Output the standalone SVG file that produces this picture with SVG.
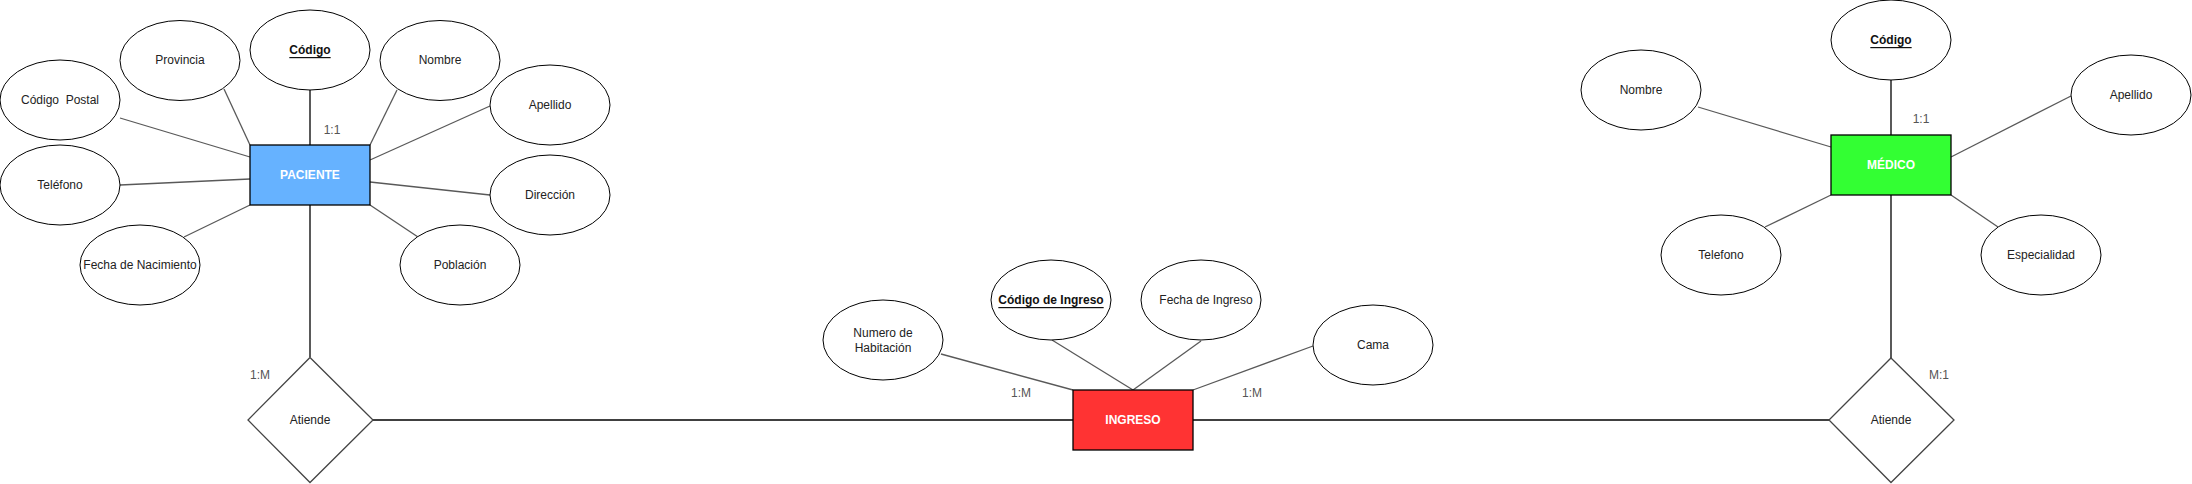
<svg xmlns="http://www.w3.org/2000/svg" width="2192" height="484" viewBox="0 0 2192 484">
<style>
  .bg{fill:#ffffff}
  .attr ellipse{fill:#ffffff;stroke:#000000;stroke-width:1}
  .ent rect{stroke:#000000;stroke-width:1.3}
  .rel polygon{fill:#ffffff;stroke:#444444;stroke-width:1.3}
  text{font-family:"Liberation Sans",Arial,Helvetica,sans-serif;font-size:12px;fill:#222222;text-anchor:middle;dominant-baseline:central}
  .key{font-weight:bold;text-decoration:underline;fill:#111111}
  .etext{font-weight:bold;fill:#ffffff}
  .card{fill:#555555}
  .al{stroke:#595959;stroke-width:1.3;fill:none}
  .rl{stroke:#000000;stroke-width:1.3;fill:none}
</style>
<rect class="bg" x="0" y="0" width="2192" height="484"/>
<g id="connectors">
  <!-- PACIENTE attributes -->
  <line class="al" x1="120" y1="118" x2="250" y2="157"/>
  <line class="al" x1="224" y1="89" x2="250" y2="145"/>
  <line class="rl" x1="310" y1="90" x2="310" y2="145"/>
  <line class="al" x1="397" y1="90" x2="370" y2="145"/>
  <line class="al" x1="490" y1="106" x2="370" y2="160"/>
  <line class="al" x1="120" y1="185" x2="250" y2="179"/>
  <line class="al" x1="184" y1="237" x2="250" y2="205"/>
  <line class="al" x1="370" y1="182" x2="490" y2="195"/>
  <line class="al" x1="370" y1="205" x2="418" y2="237"/>
  <line class="rl" x1="310" y1="205" x2="310" y2="357"/>
  <line class="rl" x1="373" y1="420" x2="1073" y2="420"/>
  <!-- INGRESO attributes -->
  <line class="al" x1="941" y1="354" x2="1073" y2="390"/>
  <line class="al" x1="1052" y1="340" x2="1133" y2="390"/>
  <line class="al" x1="1201" y1="341" x2="1133" y2="390"/>
  <line class="al" x1="1313" y1="346" x2="1193" y2="390"/>
  <line class="rl" x1="1193" y1="420" x2="1829" y2="420"/>
  <!-- MEDICO attributes -->
  <line class="rl" x1="1891" y1="80" x2="1891" y2="135"/>
  <line class="al" x1="1698" y1="107" x2="1831" y2="147"/>
  <line class="al" x1="2071" y1="96" x2="1951" y2="157"/>
  <line class="al" x1="1765" y1="227" x2="1831" y2="195"/>
  <line class="al" x1="1998" y1="227" x2="1951" y2="195"/>
  <line class="rl" x1="1891" y1="195" x2="1891" y2="358"/>
  <text class="card" x="332" y="130">1:1</text>
  <text class="card" x="260" y="375">1:M</text>
  <text class="card" x="1021" y="393">1:M</text>
  <text class="card" x="1252" y="393">1:M</text>
  <text class="card" x="1921" y="119">1:1</text>
  <text class="card" x="1939" y="375">M:1</text>
</g>
<g id="att-codigo-postal" class="attr"><ellipse cx="60" cy="100" rx="60" ry="40"/><text x="60" y="100">Código&#160; Postal</text></g>
<g id="att-provincia" class="attr"><ellipse cx="180" cy="60.5" rx="60" ry="40"/><text x="180" y="60">Provincia</text></g>
<g id="att-codigo-pac" class="attr"><ellipse cx="310" cy="50" rx="60" ry="40"/><text class="key" x="310" y="50">Código</text></g>
<g id="att-nombre-pac" class="attr"><ellipse cx="440" cy="60.5" rx="60" ry="40"/><text x="440" y="60">Nombre</text></g>
<g id="att-apellido-pac" class="attr"><ellipse cx="550" cy="105" rx="60" ry="40"/><text x="550" y="105">Apellido</text></g>
<g id="att-telefono-pac" class="attr"><ellipse cx="60" cy="185" rx="60" ry="40"/><text x="60" y="185">Teléfono</text></g>
<g id="att-fecha-nac" class="attr"><ellipse cx="140" cy="265" rx="60" ry="40"/><text x="140" y="265">Fecha de Nacimiento</text></g>
<g id="att-direccion" class="attr"><ellipse cx="550" cy="195" rx="60" ry="40"/><text x="550" y="195">Dirección</text></g>
<g id="att-poblacion" class="attr"><ellipse cx="460" cy="265" rx="60" ry="40"/><text x="460" y="265">Población</text></g>
<g id="ent-paciente" class="ent"><rect x="250" y="145" width="120" height="60" fill="#66B2FF"/><text class="etext" x="310" y="175">PACIENTE</text></g>
<g id="rel-atiende-1" class="rel"><polygon points="310,357.5 373,420 310,482.5 248,420"/><text x="310" y="420">Atiende</text></g>
<g id="att-num-hab" class="attr"><ellipse cx="883" cy="340" rx="60" ry="40"/><text x="883" y="333">Numero de</text><text x="883" y="348">Habitación</text></g>
<g id="att-codigo-ingreso" class="attr"><ellipse cx="1051" cy="300" rx="60" ry="40"/><text class="key" x="1051" y="300">Código de Ingreso</text></g>
<g id="att-fecha-ingreso" class="attr"><ellipse cx="1201" cy="300" rx="60" ry="40"/><text x="1206" y="300">Fecha de Ingreso</text></g>
<g id="att-cama" class="attr"><ellipse cx="1373" cy="345" rx="60" ry="40"/><text x="1373" y="345">Cama</text></g>
<g id="ent-ingreso" class="ent"><rect x="1073" y="390" width="120" height="60" fill="#FF3333"/><text class="etext" x="1133" y="420">INGRESO</text></g>
<g id="att-codigo-med" class="attr"><ellipse cx="1891" cy="40" rx="60" ry="40"/><text class="key" x="1891" y="40">Código</text></g>
<g id="att-nombre-med" class="attr"><ellipse cx="1641" cy="90" rx="60" ry="40"/><text x="1641" y="90">Nombre</text></g>
<g id="att-apellido-med" class="attr"><ellipse cx="2131" cy="95" rx="60" ry="40"/><text x="2131" y="95">Apellido</text></g>
<g id="att-telefono-med" class="attr"><ellipse cx="1721" cy="255" rx="60" ry="40"/><text x="1721" y="255">Telefono</text></g>
<g id="att-especialidad" class="attr"><ellipse cx="2041" cy="255" rx="60" ry="40"/><text x="2041" y="255">Especialidad</text></g>
<g id="ent-medico" class="ent"><rect x="1831" y="135" width="120" height="60" fill="#33FF33"/><text class="etext" x="1891" y="165">MÉDICO</text></g>
<g id="rel-atiende-2" class="rel"><polygon points="1891,358 1954,420 1891,482.5 1829,420"/><text x="1891" y="420">Atiende</text></g>
</svg>
